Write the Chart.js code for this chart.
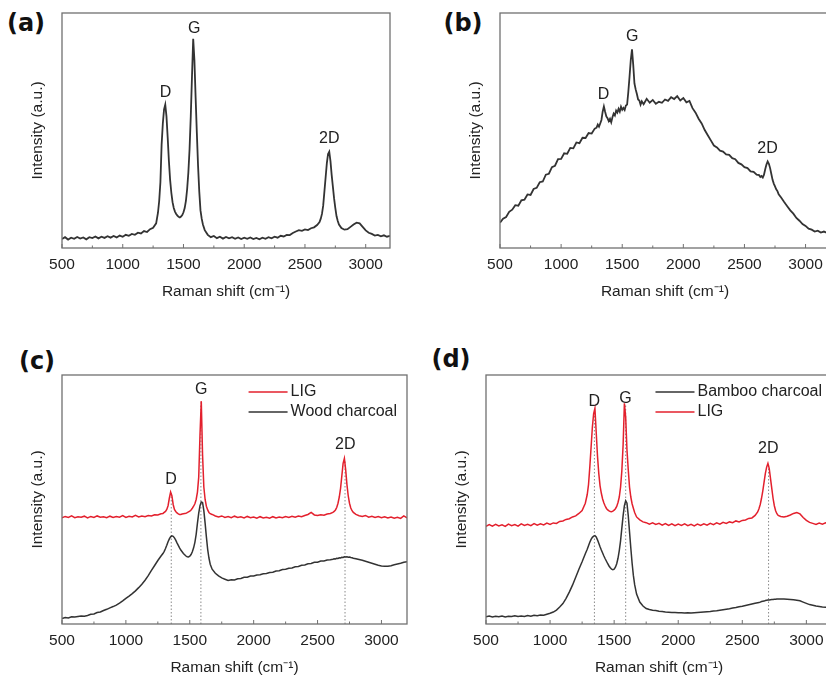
<!DOCTYPE html>
<html>
<head>
<meta charset="utf-8">
<title>Raman spectra</title>
<script src="https://cdn.jsdelivr.net/npm/chart.js"></script>
<style>
  body { margin: 0; width: 826px; height: 682px; overflow: hidden; position: relative; background: #fff; }
  .panel { position: absolute; }
  .tag { position: absolute; width: 60px; text-align: center; line-height: 30px;
         font: bold 24px 'DejaVu Sans', sans-serif; color: #111; }
</style>
</head>
<body>
<div class="tag" style="left:-4px;top:9px">(a)</div>
<div class="tag" style="left:433px;top:9px">(b)</div>
<div class="tag" style="left:7px;top:347px">(c)</div>
<div class="tag" style="left:421px;top:345px">(d)</div>

<div class="panel" style="left:0;top:0;width:400px;height:310px"><canvas id="chartA"></canvas></div>
<div class="panel" style="left:438px;top:0;width:402px;height:310px"><canvas id="chartB"></canvas></div>
<div class="panel" style="left:0;top:362px;width:417px;height:324px"><canvas id="chartC"></canvas></div>
<div class="panel" style="left:424px;top:362px;width:418px;height:324px"><canvas id="chartD"></canvas></div>

<script>
// Raman spectra, four panels. Intensities in % of the plot height.

const shiftTicks = [500, 1000, 1500, 2000, 2500, 3000];

const ramanShift = [
  500, 525, 550, 575, 600, 625, 650, 675, 700, 725, 750, 775, 800, 825, 850, 875,
  900, 925, 950, 975, 1000, 1025, 1050, 1075, 1100, 1125, 1150, 1175, 1200, 1225, 1250, 1275,
  1290, 1300, 1310, 1320, 1330, 1340, 1350, 1360, 1370, 1380, 1390, 1400, 1410, 1420, 1430, 1440, 1450,
  1460, 1470, 1480, 1490, 1500, 1510, 1520, 1530, 1540, 1550, 1560, 1570, 1580, 1590, 1600, 1610,
  1620, 1630, 1640, 1650, 1660,
  1675, 1700, 1725, 1750, 1775, 1800, 1825, 1850, 1875, 1900, 1925, 1950, 1975, 2000, 2025, 2050,
  2075, 2100, 2125, 2150, 2175, 2200, 2225, 2250, 2275, 2300, 2325, 2350, 2375, 2400, 2425, 2450,
  2475, 2500, 2525, 2550, 2575, 2600,
  2620, 2630, 2640, 2650, 2660, 2670, 2680, 2690, 2700, 2710, 2720, 2730, 2740, 2750, 2760, 2770, 2780,
  2800, 2825, 2850, 2875, 2900, 2925, 2950, 2975, 3000, 3025, 3050, 3075, 3100, 3125, 3150, 3175, 3200
];

// (a) LIG
const spectrumA = [
  3.8, 4.6, 3.6, 4.4, 3.9, 4.7, 4.0, 4.5, 3.7, 4.6, 4.2, 4.9, 4.1, 4.8, 4.3, 5.0,
  4.4, 5.1, 4.5, 5.3, 4.8, 5.6, 5.2, 6.0, 5.6, 6.5, 6.2, 7.2, 6.8, 8.0, 8.6, 10.5,
  15, 20, 28, 44, 53, 59, 61, 56, 47, 37, 29, 23.5, 19.5, 17, 15.5, 14.5, 13.8,
  13.3, 13.0, 13.4, 14.0, 15.2, 17.0, 20.0, 25.0, 32.0, 42.0, 56.0, 73.0, 89.0, 80.0, 64.0, 49.0,
  35.0, 24.0, 16.0, 12.5, 10.0,
  7.6, 5.6, 4.6, 5.1, 4.2, 4.8, 4.0, 4.7, 4.1, 4.6, 3.9, 4.5, 3.8, 4.4, 3.9, 4.5,
  3.8, 4.3, 3.7, 4.4, 3.9, 4.6, 4.1, 4.8, 4.4, 5.2, 4.9, 5.6, 5.5, 6.4, 7.0, 7.6,
  7.3, 7.9, 7.6, 8.4, 8.8, 9.8,
  11.0, 12.5, 14.5, 18.0, 24.0, 30.0, 36.0, 40.0, 41.0, 37.0, 31.0, 26.0, 21.0, 17.0, 13.5, 11.5, 10.0,
  8.5, 7.8, 8.0, 9.0, 10.0, 10.8, 10.5, 9.0, 7.5, 6.5, 6.0, 5.3, 5.6, 5.0, 5.4, 4.8, 5.2
];

// (b) charcoal
const spectrumB = [
  10.8, 12.5, 13.2, 15.4, 16.3, 18.2, 18.0, 20.3, 20.6, 22.8, 22.6, 25.1, 25.6, 28.0, 28.3, 31.2,
  31.6, 34.4, 35.0, 37.8, 37.9, 40.3, 40.1, 42.6, 42.4, 44.9, 44.6, 46.9, 46.8, 48.9, 48.7, 50.8,
  51.2, 52.5, 51.6, 53.0, 54.5, 58.0, 60.2, 58.0, 56.0, 55.2, 54.0, 55.0, 53.5, 55.6, 57.2, 56.4, 58.5,
  57.6, 59.2, 58.0, 60.1, 58.8, 59.6, 58.7, 60.6, 61.0, 66.5, 73.0, 80.0, 84.5, 78.0, 70.0, 67.5,
  65.5, 63.2, 62.8, 61.0, 62.4,
  61.2, 63.5, 61.8, 63.0, 61.4, 62.2, 61.8, 63.2, 62.6, 64.2, 63.4, 64.6, 62.8, 63.8, 62.0, 62.6,
  59.5, 57.6, 55.0, 53.0, 50.2, 48.0, 45.8, 43.6, 42.8, 41.4, 41.0, 39.8, 39.6, 38.2, 37.8, 36.2,
  35.6, 34.4, 34.0, 32.6, 32.4, 31.2,
  31.0, 30.2, 30.6, 30.0, 31.2, 33.5, 35.5, 36.8, 35.8, 34.0, 31.5, 29.0, 27.4, 26.2, 25.0, 24.2, 22.8,
  21.5, 19.6, 17.8, 16.0, 14.6, 12.8, 11.6, 10.2, 9.4, 8.2, 7.8, 7.0, 7.4, 6.6, 7.0, 6.5, 7.1
];

// (c) LIG vs wood charcoal
const ligC = [
  42.6, 43.2, 42.8, 43.4, 42.7, 43.1, 42.9, 43.3, 42.6, 43.2, 42.8, 43.4, 42.9, 43.1, 42.7, 43.3,
  42.8, 43.2, 42.9, 43.5, 42.8, 43.3, 43.0, 43.6, 43.0, 43.4, 43.1, 43.6, 43.4, 43.9, 43.8, 44.3,
  44.4, 44.8, 45.2, 46.0, 47.5, 50.5, 53.0, 51.5, 48.0, 46.0, 45.2, 44.6, 44.2, 44.0, 44.0, 44.2, 44.3,
  44.4, 44.5, 44.7, 45.0, 45.3, 45.8, 46.5, 47.3, 48.3, 50.0, 53.0, 59.0, 76.0, 89.5, 68.0, 55.0,
  50.0, 47.3, 45.8, 44.8, 44.3,
  44.0, 43.4, 43.0, 43.4, 42.8, 43.2, 42.7, 43.3, 42.8, 43.1, 42.6, 43.2, 42.7, 43.0, 42.5, 43.1,
  42.6, 42.9, 42.5, 43.1, 42.6, 43.0, 42.7, 43.2, 42.8, 43.3, 42.9, 43.4, 43.1, 43.6, 44.0, 44.8,
  43.8, 43.6, 43.9, 43.7, 44.2, 44.4,
  44.8, 45.2, 45.8, 46.8, 48.5, 51.0, 54.5, 59.5, 64.5, 66.5, 62.0, 56.0, 51.5, 48.5, 46.6, 45.5, 44.8,
  44.0, 43.5, 43.2, 43.6, 42.9, 43.3, 42.8, 43.2, 42.7, 43.1, 42.6, 43.0, 42.5, 42.9, 42.4, 43.4, 42.6
];
const woodC = [
  2.2, 2.6, 2.4, 2.9, 2.8, 3.0, 3.2, 3.1, 3.4, 3.9, 4.0, 4.6, 4.8, 5.4, 5.9, 6.5,
  7.0, 7.6, 8.4, 9.3, 10.3, 11.2, 12.2, 13.3, 14.6, 16.0, 17.6, 19.4, 21.5, 23.5, 25.5, 27.3,
  28.3, 29.2, 30.3, 31.6, 33.0, 34.2, 35.0, 35.4, 35.2, 34.6, 33.7, 32.6, 31.6, 30.6, 29.7, 29.0, 28.3,
  27.8, 27.3, 27.0, 26.9, 27.2, 27.9, 29.0, 30.6, 32.8, 36.0, 40.5, 44.5, 47.5, 49.0, 48.8, 45.5,
  40.5, 35.0, 30.0, 26.5, 24.0,
  22.0, 20.4, 19.3, 18.5, 18.0, 17.5, 17.8, 17.7, 18.2, 18.3, 18.8, 18.8, 19.3, 19.3, 19.7, 19.8,
  20.2, 20.3, 20.7, 20.8, 21.3, 21.4, 21.9, 22.0, 22.4, 22.5, 23.0, 23.1, 23.6, 23.7, 24.2, 24.3,
  24.8, 24.8, 25.3, 25.3, 25.7, 25.8,
  26.0, 26.2, 26.1, 26.4, 26.3, 26.6, 26.5, 26.8, 26.7, 27.0, 26.9, 27.0, 26.8, 26.9, 26.7, 26.6, 26.4,
  26.2, 25.9, 25.6, 25.2, 24.8, 24.4, 24.0, 23.6, 23.3, 23.2, 23.2, 23.4, 23.8, 24.1, 24.4, 24.8, 25.0
];

// (d) bamboo charcoal vs LIG
const bambooD = [
  2.9, 3.2, 2.8, 3.1, 2.9, 3.2, 2.8, 3.1, 3.0, 3.3, 3.0, 3.2, 3.0, 3.4, 3.1, 3.5,
  3.3, 3.6, 3.5, 3.9, 4.3, 4.8, 5.6, 6.8, 8.2, 10.3, 12.8, 15.6, 18.8, 22.0, 25.0, 28.2,
  30.0, 31.4, 32.8, 34.0, 34.8, 35.3, 35.5, 35.0, 33.8, 32.4, 31.0, 29.7, 28.5, 27.3, 26.2, 25.2, 24.2,
  23.3, 22.6, 22.0, 21.8, 22.0, 22.8, 24.2, 26.4, 29.5, 33.4, 38.5, 43.5, 47.5, 49.5, 48.5, 43.5,
  37.0, 30.5, 24.5, 19.5, 15.8,
  12.0, 8.8, 7.2, 6.2, 5.8, 5.5, 5.4, 5.1, 5.0, 4.8, 4.7, 4.6, 4.6, 4.5, 4.5, 4.4,
  4.5, 4.4, 4.5, 4.6, 4.7, 4.8, 4.9, 5.0, 5.2, 5.3, 5.5, 5.7, 5.9, 6.1, 6.4, 6.6,
  6.9, 7.1, 7.4, 7.7, 8.0, 8.3,
  8.5, 8.6, 8.8, 9.0, 9.1, 9.2, 9.4, 9.5, 9.6, 9.6, 9.7, 9.8, 9.8, 9.9, 9.9, 10.0, 10.0,
  10.0, 10.0, 9.9, 9.8, 9.7, 9.5, 9.3, 8.8, 8.3, 7.8, 7.5, 7.2, 7.0, 6.8, 6.7, 6.6, 6.6
];
const ligD = [
  39.2, 39.9, 39.3, 40.0, 39.4, 39.8, 39.2, 40.1, 39.5, 39.9, 39.3, 40.2, 39.6, 40.0, 39.5, 40.3,
  39.7, 40.2, 39.8, 40.5, 40.0, 40.6, 40.4, 41.2, 41.4, 42.0, 42.3, 43.0, 43.4, 44.4, 45.6, 48.5,
  52.0, 56.0, 63.0, 71.0, 79.0, 84.5, 86.6, 77.0, 67.5, 60.5, 55.5, 52.5, 50.2, 48.6, 47.4, 46.4, 45.8,
  45.4, 45.2, 45.1, 45.3, 45.7, 46.3, 47.2, 48.8, 51.0, 55.0, 61.5, 72.0, 88.6, 83.0, 70.0, 62.0,
  55.0, 51.0, 48.3, 46.5, 44.8,
  43.0, 41.8, 41.0, 40.7, 40.1, 40.6, 40.0, 40.4, 39.7, 40.3, 39.6, 40.2, 39.5, 40.1, 39.6, 40.2,
  39.5, 40.0, 39.4, 40.1, 39.6, 40.2, 39.7, 40.4, 39.9, 40.6, 40.1, 40.8, 40.4, 41.0, 40.7, 41.4,
  41.0, 41.6, 41.8, 42.4, 42.6, 43.6,
  45.0, 46.3, 48.0, 50.5, 53.5, 57.0, 60.5, 63.0, 64.5, 62.5, 58.5, 54.5, 50.5, 47.5, 45.5, 44.3, 43.6,
  43.2, 43.0, 43.3, 43.8, 44.4, 44.8, 44.2, 42.8, 41.6, 40.8, 40.4, 40.0, 40.5, 40.1, 40.6, 40.2, 40.5
];

// peak labels: name, shift, label height
const peakNames = ['D', 'G', '2D'];
const peakShiftA = [1353, 1589, 2700], peakLabelA = [66, 93.5, 46.7];
const peakShiftB = [1347, 1582, 2689], peakLabelB = [65.4, 89.9, 42.4];
const peakShiftC = [1354, 1590, 2717], peakLabelC = [58.1, 94.3, 71.9];
const peakShiftD = [1344, 1588, 2703], peakLabelD = [89.3, 90.6, 70.6];

// dotted guide lines (shift, top of the line)
const guideShiftC = [1355, 1587, 2715], guideTopC = [53, 89, 66];
const guideShiftD = [1346, 1590, 2705], guideTopD = [86, 88, 64];

const FONT = "'Liberation Sans', Arial, sans-serif";
const BLACK = '#333333';
const RED = '#e3202d';

function toPoints(ys) {
  return ramanShift.map((x, i) => ({ x: x, y: ys[i] }));
}

function guideSets(shifts, tops) {
  return shifts.map((s, i) => ({
    data: [{ x: s, y: 0 }, { x: s, y: tops[i] }],
    borderColor: '#8a8a8a', borderWidth: 1, borderDash: [1.5, 2],
    pointRadius: 0, order: 5
  }));
}

function spectrumSet(label, ys, color, inLegend, width) {
  return {
    label: label, data: toPoints(ys), borderColor: color, borderWidth: width || 1.5,
    pointRadius: 0, tension: 0, order: 1, inLegend: inLegend
  };
}

// box around the plot + inward tick marks
const framePlugin = {
  id: 'frame',
  afterDraw(chart) {
    const { ctx, chartArea: a, scales: { x } } = chart;
    ctx.save();
    ctx.strokeStyle = '#707070';
    ctx.lineWidth = 1.3;
    ctx.strokeRect(a.left, a.top, a.right - a.left, a.bottom - a.top);
    ctx.lineWidth = 1;
    for (let v = x.min; v <= x.max; v += 250) {
      const px = x.getPixelForValue(v);
      const len = v % 500 === 0 ? 4 : 2.5;
      ctx.beginPath();
      ctx.moveTo(px, a.bottom);
      ctx.lineTo(px, a.bottom - len);
      ctx.stroke();
    }
    ctx.restore();
  }
};

const peakLabelPlugin = {
  id: 'peakLabels',
  afterDatasetsDraw(chart, args, opts) {
    if (!opts.shifts) return;
    const { ctx, scales: { x, y } } = chart;
    ctx.save();
    ctx.font = '16px ' + FONT;
    ctx.fillStyle = '#222';
    ctx.textAlign = 'center';
    ctx.textBaseline = 'middle';
    peakNames.forEach((name, i) => {
      ctx.fillText(name, x.getPixelForValue(opts.shifts[i]), y.getPixelForValue(opts.heights[i]));
    });
    ctx.restore();
  }
};

// legend drawn inside the plot, top right
const insideLegendPlugin = {
  id: 'insideLegend',
  afterDatasetsDraw(chart) {
    const items = chart.data.datasets.filter(d => d.inLegend);
    if (!items.length) return;
    const { ctx, chartArea: a } = chart;
    ctx.save();
    ctx.font = '16px ' + FONT;
    const w = Math.max(...items.map(d => ctx.measureText(d.label).width));
    const textX = a.right - 10 - w;
    items.forEach((d, i) => {
      const yy = a.top + 17 + i * 20;
      ctx.strokeStyle = d.borderColor;
      ctx.lineWidth = 1.3;
      ctx.beginPath();
      ctx.moveTo(textX - 42, yy);
      ctx.lineTo(textX - 3, yy);
      ctx.stroke();
      ctx.fillStyle = '#222';
      ctx.textBaseline = 'middle';
      ctx.fillText(d.label, textX, yy);
    });
    ctx.restore();
  }
};

function makeOptions(shifts, heights) {
  return {
    responsive: true,
    maintainAspectRatio: false,
    animation: false,
    events: [],
    layout: { padding: { top: 13, right: 10, left: 0, bottom: 0 } },
    plugins: {
      legend: { display: false },
      tooltip: { enabled: false },
      peakLabels: { shifts: shifts, heights: heights }
    },
    scales: {
      x: {
        type: 'linear', min: 500, max: 3200,
        ticks: { padding: 7, color: '#222', maxRotation: 0, autoSkip: false,
                 font: { family: FONT, size: 15.5 },
                 callback: v => String(v) },
        afterBuildTicks: s => { s.ticks = shiftTicks.map(v => ({ value: v })); },
        afterFit: s => { s.height = 62; },
        grid: { display: false, drawTicks: false },
        border: { display: false },
        title: { display: true, text: 'Raman shift (cm\u207B\u00B9)', color: '#222',
                 font: { family: FONT, size: 15.5 }, padding: { top: 0, bottom: 9 } }
      },
      y: {
        min: 0, max: 100,
        ticks: { display: false },
        grid: { display: false, drawTicks: false },
        border: { display: false },
        afterFit: s => { s.width = 62; },
        title: { display: true, text: 'Intensity (a.u.)', color: '#222',
                 font: { family: FONT, size: 15.5 }, padding: { top: 28, bottom: 0 } }
      }
    }
  };
}

const plugins = [framePlugin, peakLabelPlugin, insideLegendPlugin];

new Chart(document.getElementById('chartA'), {
  type: 'line',
  data: { datasets: [spectrumSet('LIG', spectrumA, BLACK, false, 1.8)] },
  options: makeOptions(peakShiftA, peakLabelA),
  plugins: plugins
});

new Chart(document.getElementById('chartB'), {
  type: 'line',
  data: { datasets: [spectrumSet('Charcoal', spectrumB, BLACK, false, 1.8)] },
  options: makeOptions(peakShiftB, peakLabelB),
  plugins: plugins
});

new Chart(document.getElementById('chartC'), {
  type: 'line',
  data: { datasets: [
    spectrumSet('LIG', ligC, RED, true),
    spectrumSet('Wood charcoal', woodC, BLACK, true),
    ...guideSets(guideShiftC, guideTopC)
  ] },
  options: makeOptions(peakShiftC, peakLabelC),
  plugins: plugins
});

new Chart(document.getElementById('chartD'), {
  type: 'line',
  data: { datasets: [
    spectrumSet('Bamboo charcoal', bambooD, BLACK, true),
    spectrumSet('LIG', ligD, RED, true),
    ...guideSets(guideShiftD, guideTopD)
  ] },
  options: makeOptions(peakShiftD, peakLabelD),
  plugins: plugins
});
</script>
</body>
</html>
